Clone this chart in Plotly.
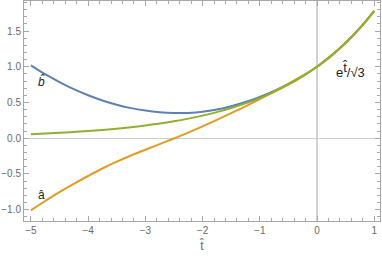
import plotly.graph_objects as go

t_vals = [-5.0, -4.75, -4.5, -4.25, -4.0, -3.75, -3.5, -3.25, -3.0, -2.75, -2.5, -2.25, -2.0,
          -1.75, -1.5, -1.25, -1.0, -0.75, -0.5, -0.25, 0.0, 0.25, 0.5, 0.75, 1.0]
b_hat = [1.02, 0.895, 0.785, 0.685, 0.60, 0.528, 0.468, 0.42, 0.386, 0.363, 0.352, 0.353, 0.368,
         0.40, 0.447, 0.505, 0.578, 0.663, 0.76, 0.872, 1.0, 1.155, 1.335, 1.542, 1.781]
a_hat = [-1.01, -0.88, -0.755, -0.64, -0.53, -0.425, -0.33, -0.243, -0.162, -0.083, -0.005, 0.078, 0.164,
         0.255, 0.35, 0.445, 0.545, 0.65, 0.76, 0.875, 1.0, 1.155, 1.333, 1.54, 1.78]
exp_curve = [0.056, 0.064, 0.074, 0.086, 0.099, 0.115, 0.133, 0.153, 0.177, 0.204, 0.236, 0.273, 0.315,
             0.364, 0.421, 0.486, 0.561, 0.649, 0.749, 0.866, 1.0, 1.155, 1.335, 1.542, 1.781]

x_ticks = [-5, -4, -3, -2, -1, 0, 1]
x_tick_text = ["\u22125", "\u22124", "\u22123", "\u22122", "\u22121", "0", "1"]
y_ticks = [-1.0, -0.5, 0.0, 0.5, 1.0, 1.5]
y_tick_text = ["\u22121.0", "\u22120.5", "0.0", "0.5", "1.0", "1.5"]

BLUE = "#5E81B5"
ORANGE = "#E19C24"
GREEN = "#8FB032"

fig = go.Figure()
for ys, col in [(b_hat, BLUE), (a_hat, ORANGE), (exp_curve, GREEN)]:
    fig.add_trace(go.Scatter(x=t_vals, y=ys, mode="lines",
                             line=dict(color=col, width=2, shape="spline", smoothing=1.0)))

lab_font = dict(family="Liberation Sans, Arial, sans-serif", size=12, color="#222222")
fig.add_annotation(x=-4.81, y=0.79, text="<i>b\u0302</i>", showarrow=False, font=lab_font)
fig.add_annotation(x=-4.81, y=-0.79, text="a\u0302", showarrow=False, font=lab_font)
fig.add_annotation(x=0.59, y=0.95,
                   text="e<sup><span style='font-size:13px'>t\u0302</span></sup>/\u221a3",
                   showarrow=False, font=dict(family="Liberation Sans, Arial, sans-serif", size=13, color="#222222"))

frame_col = "#a8a8a8"
tick_font = dict(family="Liberation Sans, Arial, sans-serif", size=10, color="#6a6a6a")

fig.update_xaxes(range=[-5.12, 1.10], tickvals=x_ticks, ticktext=x_tick_text,
                 ticks="inside", ticklen=5, tickcolor=frame_col, tickwidth=1,
                 minor=dict(dtick=0.2, tick0=0, ticks="inside", ticklen=3, tickcolor=frame_col, showgrid=False),
                 showline=True, linecolor=frame_col, linewidth=1, mirror="allticks",
                 showgrid=False, zeroline=True, zerolinecolor="#d2d2d2", zerolinewidth=1.5,
                 tickfont=tick_font, automargin=False,
                 title=dict(text="t\u0302", font=dict(family="Liberation Sans, Arial, sans-serif", size=12, color="#6a6a6a"), standoff=6))
fig.update_yaxes(range=[-1.16, 1.92], tickvals=y_ticks, ticktext=y_tick_text,
                 ticks="inside", ticklen=5, tickcolor=frame_col, tickwidth=1,
                 minor=dict(dtick=0.1, tick0=0, ticks="inside", ticklen=3, tickcolor=frame_col, showgrid=False),
                 showline=True, linecolor=frame_col, linewidth=1, mirror="allticks",
                 showgrid=False, zeroline=True, zerolinecolor="#cccccc", zerolinewidth=1,
                 tickfont=tick_font, automargin=False)

fig.update_layout(width=382, height=261, margin=dict(l=24, r=2, t=1, b=40),
                  plot_bgcolor="white", paper_bgcolor="white", showlegend=False)

fig.write_html("out.html", config={"displayModeBar": False},
               post_script="document.body.style.margin='0';document.body.style.overflow='hidden';")
